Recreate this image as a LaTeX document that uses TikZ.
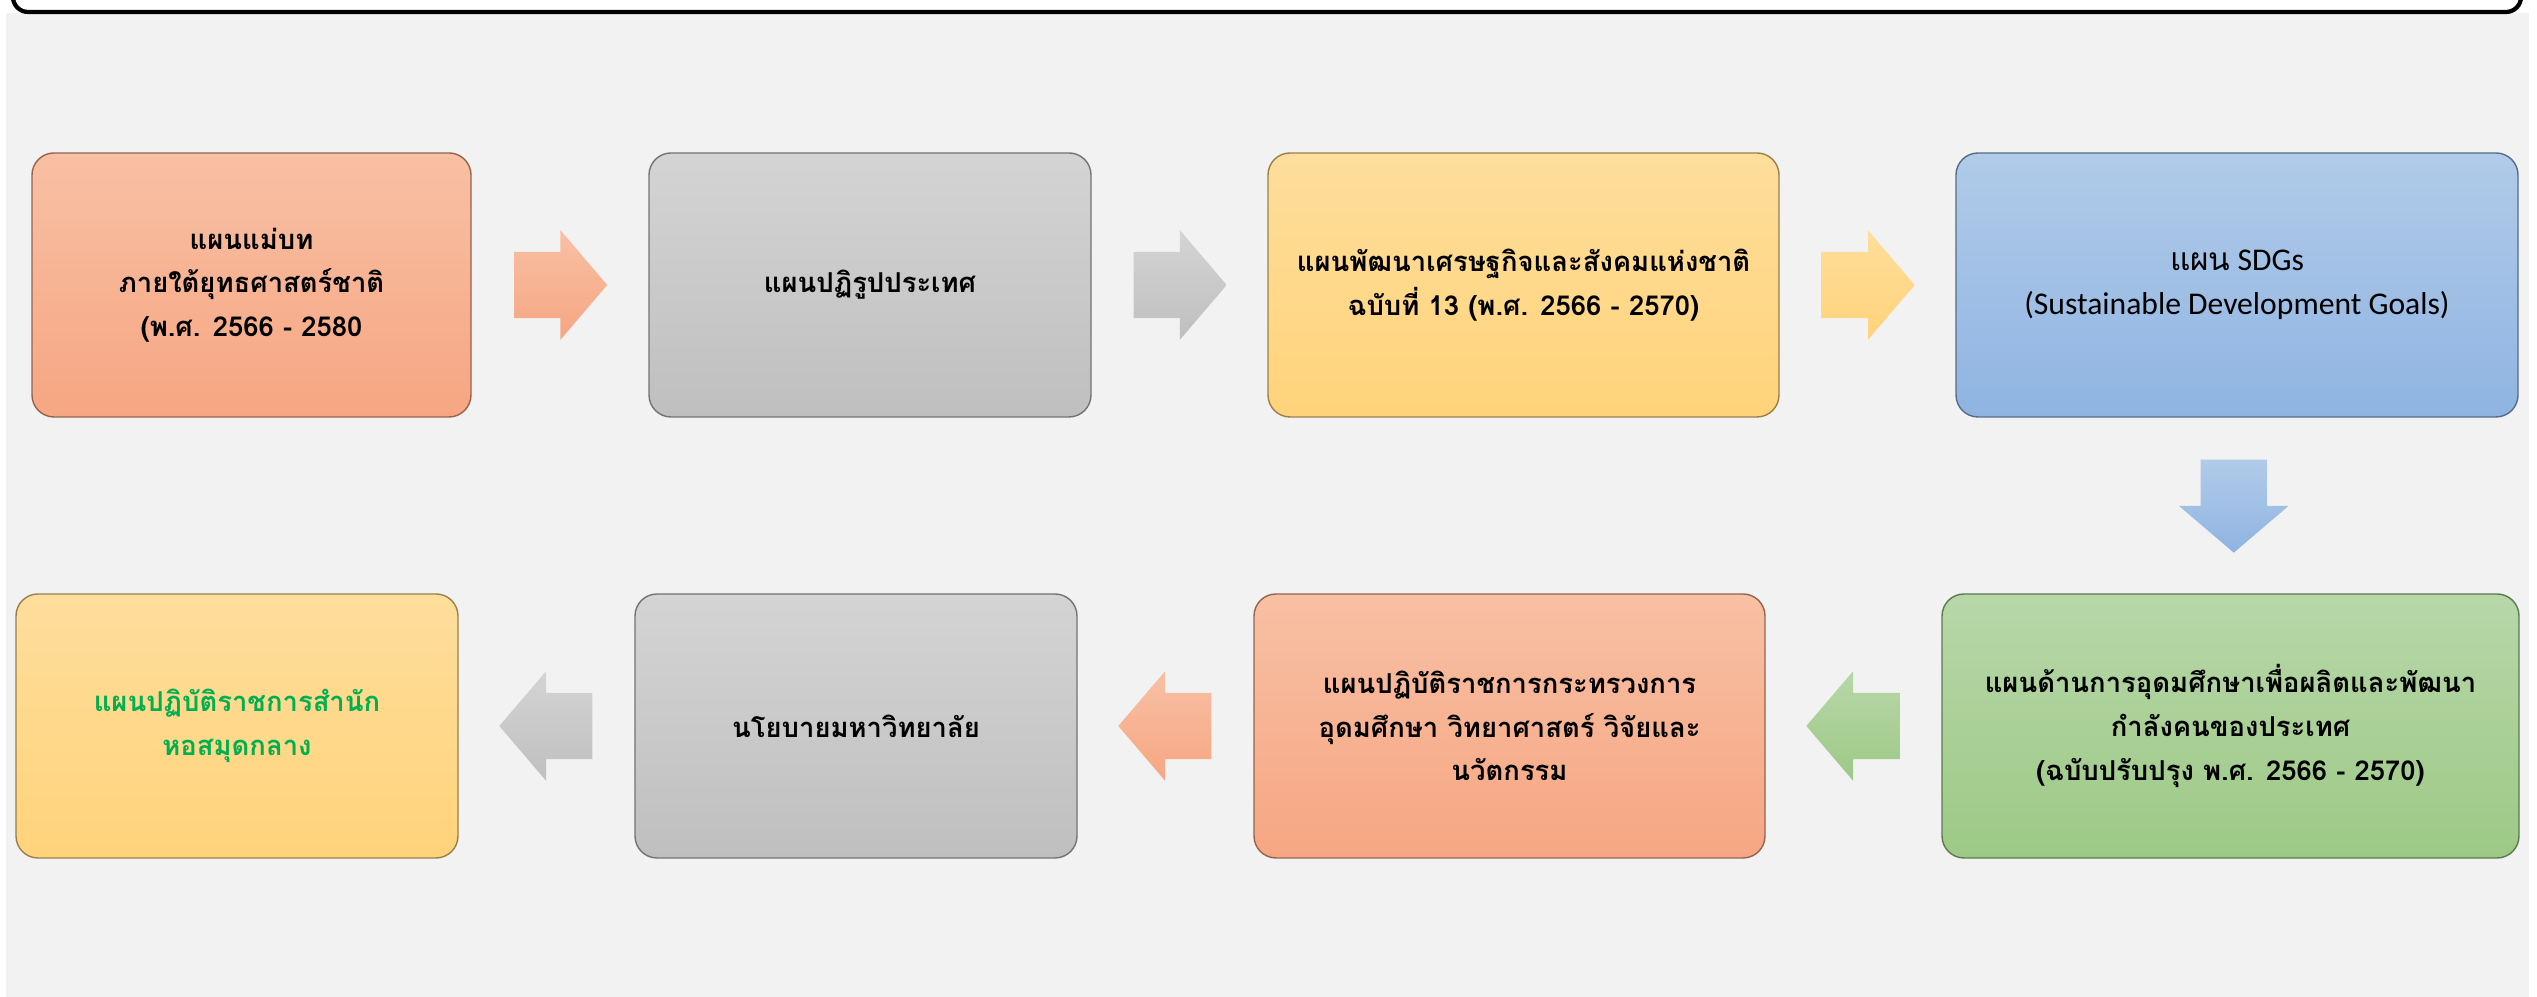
\documentclass[tikz,border=0pt]{standalone}
\usepackage{fontspec}
\newfontfamily\thaifont[Script=Thai]{Loma}
\newfontfamily\sdgfont{Carlito}
\usetikzlibrary{shapes.arrows,calc}
\definecolor{pageback}{RGB}{242,242,242}
\definecolor{orangetop}{RGB}{248,192,164}
\definecolor{orangebot}{RGB}{246,166,130}
\definecolor{graytop}{RGB}{212,212,212}
\definecolor{graybot}{RGB}{191,191,191}
\definecolor{yellowtop}{RGB}{254,222,156}
\definecolor{yellowbot}{RGB}{255,211,122}
\definecolor{bluetop}{RGB}{177,203,233}
\definecolor{bluebot}{RGB}{143,180,226}
\definecolor{greentop}{RGB}{183,215,168}
\definecolor{greenbot}{RGB}{157,201,134}
\definecolor{plangreen}{RGB}{0,176,80}
\begin{document}
\begin{tikzpicture}[
	plan/.style={draw=#1bot!60!black, line width=0.4pt, rounded corners=2.2mm,
		top color=#1top, bottom color=#1bot, minimum height=2.64cm, align=center,
		font=\thaifont\bfseries\fontsize{7.8}{12.4}\selectfont},
	blockarrow/.style={single arrow, top color=#1top, bottom color=#1bot, draw=none,
		inner xsep=0pt, inner ysep=3.25mm, single arrow head extend=2.15mm,
		minimum height=9.3mm, single arrow tip angle=99, anchor=tail}
	]
	\useasboundingbox (0,0) rectangle (25.37,9.97);
	\fill[white] (0,0) rectangle (25.37,9.97);
	\fill[pageback] (0.06,0) rectangle (25.29,9.84);
	\draw[fill=white, line width=1.2pt, rounded corners=1.5mm] (0.13,10.6) rectangle (25.21,9.85);
	% top row
	\node[plan=orange, minimum width=4.39cm] (masterplan) at (2.515,7.12) {แผนแม่บท\\ภายใต้ยุทธศาสตร์ชาติ\\(พ.ศ. 2566 - 2580};
	\node[plan=gray, minimum width=4.42cm] (reform) at (8.70,7.12) {แผนปฏิรูปประเทศ};
	\node[plan=yellow, minimum width=5.11cm] (nesdp) at (15.235,7.12) {แผนพัฒนาเศรษฐกิจและสังคมแห่งชาติ\\ฉบับที่ 13 (พ.ศ. 2566 - 2570)};
	\node[plan=blue, minimum width=5.62cm, font=\sdgfont\fontsize{9}{12.4}\selectfont] (sdgs) at (22.37,7.12) {{\thaifont แผน} SDGs\\(Sustainable Development Goals)};
	% bottom row
	\node[plan=green, minimum width=5.77cm] (hedplan) at (22.305,2.71) {แผนด้านการอุดมศึกษาเพื่อผลิตและพัฒนา\\กำลังคนของประเทศ\\(ฉบับปรับปรุง พ.ศ. 2566 - 2570)};
	\node[plan=orange, minimum width=5.11cm] (mhesi) at (15.095,2.71) {แผนปฏิบัติราชการกระทรวงการ\\อุดมศึกษา วิทยาศาสตร์ วิจัยและ\\นวัตกรรม};
	\node[plan=gray, minimum width=4.42cm] (unipolicy) at (8.56,2.71) {นโยบายมหาวิทยาลัย};
	\node[plan=yellow, minimum width=4.42cm, text=plangreen] (libplan) at (2.37,2.71) {แผนปฏิบัติราชการสำนัก\\หอสมุดกลาง};
	% arrows between the plans
	\node[blockarrow=orange] (a1) at ($(masterplan.east)!0.5!(reform.west)+(-4.65mm,0)$) {};
	\node[blockarrow=gray] (a2) at ($(reform.east)!0.5!(nesdp.west)+(-4.65mm,0)$) {};
	\node[blockarrow=yellow] (a3) at ($(nesdp.east)!0.5!(sdgs.west)+(-4.65mm,0)$) {};
	\node[blockarrow=blue, shape border rotate=270, inner xsep=3.25mm, inner ysep=0pt] (a4) at ($(sdgs.south)!0.5!(hedplan.north)+(0,4.65mm)$) {};
	\node[blockarrow=green, shape border rotate=180] (a5) at ($(hedplan.west)!0.5!(mhesi.east)+(4.65mm,0)$) {};
	\node[blockarrow=orange, shape border rotate=180] (a6) at ($(mhesi.west)!0.5!(unipolicy.east)+(4.65mm,0)$) {};
	\node[blockarrow=gray, shape border rotate=180] (a7) at ($(unipolicy.west)!0.5!(libplan.east)+(4.65mm,0)$) {};
\end{tikzpicture}
\end{document}
